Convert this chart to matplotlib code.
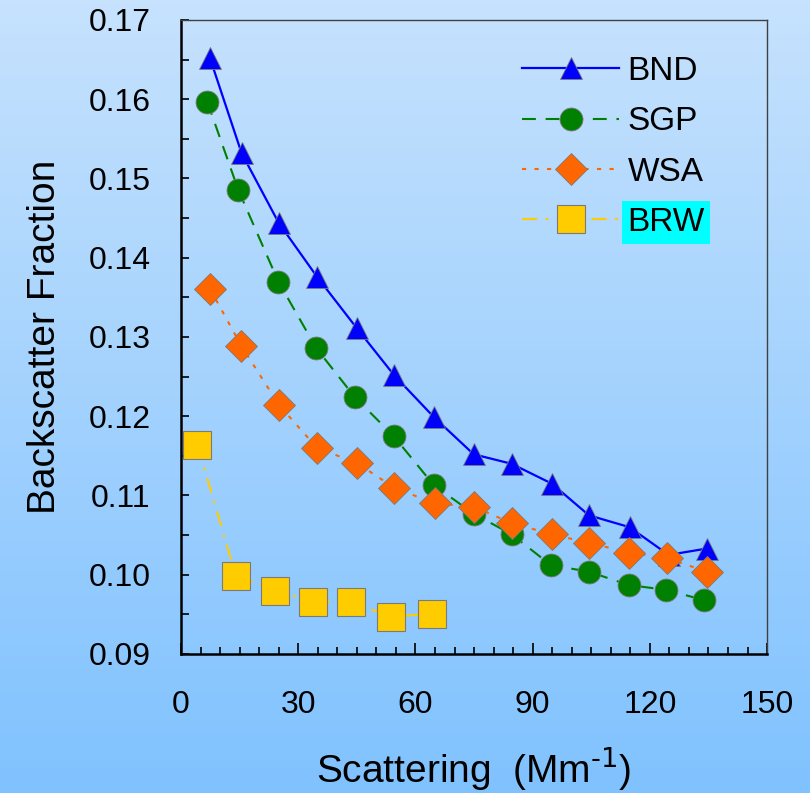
import numpy as np
import matplotlib
matplotlib.use("Agg")
import matplotlib.pyplot as plt
from matplotlib.ticker import MultipleLocator, FormatStrFormatter

plt.rcParams["font.family"] = ["Liberation Sans", "DejaVu Sans"]
plt.rcParams["mathtext.default"] = "regular"
plt.rcParams["lines.scale_dashes"] = False

# valores
bnd_x = [7.4, 15.5, 25.0, 34.8, 45.0, 54.5, 64.7, 74.9, 84.6, 94.9, 104.4, 114.8, 124.8, 134.5]
bnd_y = [0.1652, 0.1532, 0.1444, 0.1376, 0.1311, 0.1252, 0.1199, 0.1152, 0.1140, 0.1115,
         0.1075, 0.1060, 0.1025, 0.1033]

sgp_x = [6.7, 14.7, 24.9, 34.6, 44.5, 54.4, 64.7, 74.9, 84.6, 94.7, 104.3, 114.6, 124.1, 133.8]
sgp_y = [0.1597, 0.1485, 0.1370, 0.1286, 0.1224, 0.1175, 0.1113, 0.1077, 0.1051, 0.1012,
         0.1004, 0.0987, 0.0981, 0.0968]

wsa_x = [7.4, 15.4, 25.1, 34.8, 45.0, 54.5, 64.9, 74.9, 84.6, 95.0, 104.5, 114.7, 124.4, 134.5]
wsa_y = [0.1361, 0.1289, 0.1214, 0.1160, 0.1141, 0.1110, 0.1090, 0.1086, 0.1065, 0.1051,
         0.1040, 0.1028, 0.1021, 0.1004]

brw_x = [4.2, 14.0, 24.1, 33.9, 43.4, 53.7, 64.3]
brw_y = [0.1164, 0.0999, 0.0980, 0.0966, 0.0966, 0.0947, 0.0951]

fig = plt.figure(figsize=(8.1, 7.93), dpi=100)

# fundo em degrade
bg = fig.add_axes([0, 0, 1, 1], zorder=-10)
grad = np.linspace(0, 1, 256).reshape(-1, 1)
top = np.array([198, 226, 253]) / 255
bot = np.array([128, 194, 255]) / 255
img = top[None, None, :] * (1 - grad[:, :, None]) + bot[None, None, :] * grad[:, :, None]
bg.imshow(img, aspect="auto", extent=[0, 1, 0, 1])
bg.axis("off")

ax = fig.add_axes([0.2235, 0.1753, 0.7235, 0.7995])
ax.patch.set_alpha(0)

edge = "#7a7a7a"
ax.plot(bnd_x, bnd_y, color="#0000FF", lw=1.6, marker="^", ms=16.5,
        mec=edge, mew=0.6, label="BND", zorder=3)
ax.plot(sgp_x, sgp_y, color="#008000", lw=1.5, dashes=(10, 7), marker="o", ms=16.5,
        mec=edge, mew=0.6, label="SGP", zorder=4)
ax.plot(wsa_x, wsa_y, color="#FF6600", lw=1.5, dashes=(3, 6), marker="D", ms=16.5,
        mec=edge, mew=0.6, label="WSA", zorder=5)
ax.plot(brw_x, brw_y, color="#FFCC00", lw=1.5, dashes=(11, 6, 2, 6), marker="s", ms=20,
        mec=edge, mew=0.8, label="BRW", zorder=6)

ax.set_xlim(0, 150)
ax.set_ylim(0.09, 0.17)
ax.xaxis.set_major_locator(MultipleLocator(30))
ax.xaxis.set_minor_locator(MultipleLocator(5))
ax.yaxis.set_major_locator(MultipleLocator(0.01))
ax.yaxis.set_minor_locator(MultipleLocator(0.005))
ax.yaxis.set_major_formatter(FormatStrFormatter("%.2f"))

ax.tick_params(axis="x", which="major", direction="in", length=8, width=1.2, pad=26,
               labelsize=23)
ax.tick_params(axis="x", which="minor", direction="in", length=5, width=1.2)
ax.tick_params(axis="y", which="both", direction="in", length=6, width=1.2, pad=22,
               labelsize=23)

for s in ["left", "bottom"]:
    ax.spines[s].set_linewidth(1.8)
    ax.spines[s].set_color("black")
for s in ["top", "right"]:
    ax.spines[s].set_linewidth(1.0)
    ax.spines[s].set_color("#404040")

ax.set_xlabel(r"Scattering  (Mm$^{\text{-1}}$)", fontsize=28, labelpad=18)
ax.set_ylabel("Backscatter Fraction", fontsize=28, labelpad=18)

leg = ax.legend(loc="upper left", bbox_to_anchor=(0.537, 0.985), frameon=False,
                fontsize=24, handlelength=2.9, numpoints=1, labelspacing=0.58,
                handletextpad=0.25, borderpad=0.3)
leg.get_texts()[3].set_bbox(dict(facecolor="#00FFFF", edgecolor="none", pad=4))

plt.savefig("out.png", dpi=100)
print("grafico salvo em out.png")
